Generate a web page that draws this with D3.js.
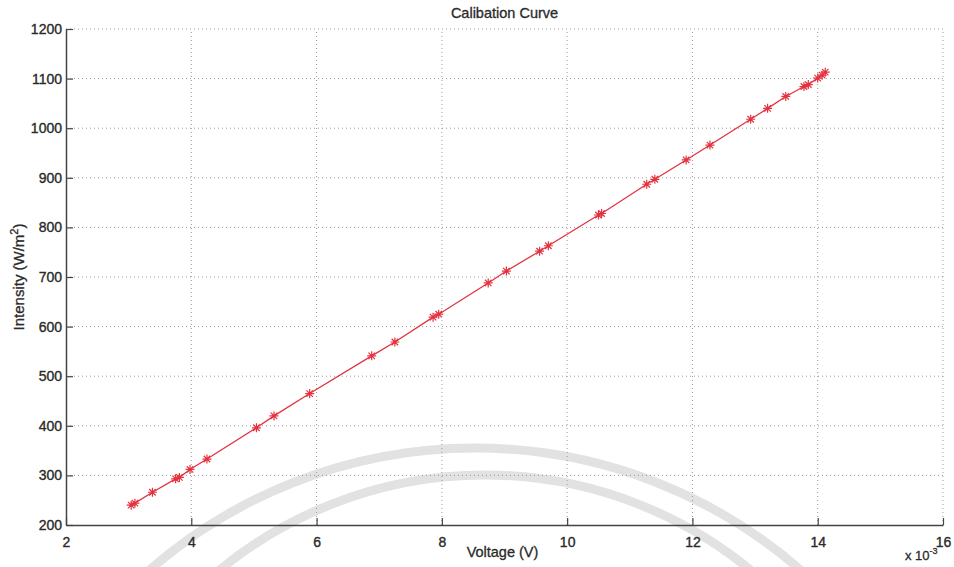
<!DOCTYPE html>
<html>
<head>
<meta charset="utf-8">
<script src="https://cdn.jsdelivr.net/npm/d3@7"></script>
<style>
  html, body { margin: 0; padding: 0; background: #fff; }
  svg { display: block; font-family: "Liberation Sans", Arial, sans-serif; }
</style>
</head>
<body>
<div id="chart"></div>
<script>
// voltage in units of 1e-3 V
const voltage = [3.04, 3.10, 3.38, 3.75, 3.81, 3.98, 4.25, 5.04, 5.32, 5.89, 6.88, 7.25,
  7.86, 7.95, 8.74, 9.03, 9.56, 9.70, 10.50, 10.55, 11.27, 11.40, 11.90, 12.28,
  12.93, 13.20, 13.49, 13.78, 13.85, 14.00, 14.07, 14.12];
const intensity = [240, 244, 266, 293, 296, 312, 333, 396, 420, 465, 541, 569,
  619, 625, 688, 712, 752, 763, 825, 828, 887, 897, 936, 966,
  1018, 1040, 1064, 1084, 1088, 1101, 1107, 1113];
const xTicks = [2, 4, 6, 8, 10, 12, 14, 16];
const yTicks = [200, 300, 400, 500, 600, 700, 800, 900, 1000, 1100, 1200];

const width = 954, height = 567;
const margin = { top: 29, right: 11, bottom: 42, left: 66 };
const red = '#e3323f';
const ink = '#2a2a2a';

const svg = d3.select('#chart').append('svg')
  .attr('width', width)
  .attr('height', height);

const x = d3.scaleLinear().domain([2, 16]).range([margin.left, width - margin.right]);
const y = d3.scaleLinear().domain([200, 1200]).range([height - margin.bottom, margin.top]);

// faint watermark arcs from the scanned page
const wm = svg.append('g').attr('fill', 'none').attr('stroke', '#e2e2e2').attr('stroke-width', 9);
wm.append('circle').attr('cx', 475).attr('cy', 943).attr('r', 495);
wm.append('circle').attr('cx', 485).attr('cy', 893).attr('r', 418);

// grid
const grid = svg.append('g')
  .attr('stroke', '#9a9a9a')
  .attr('stroke-width', 1)
  .attr('stroke-dasharray', '1,3');
grid.selectAll('.gx').data(xTicks.slice(1)).join('line')
  .attr('x1', d => x(d)).attr('x2', d => x(d))
  .attr('y1', y(200)).attr('y2', y(1200));
grid.selectAll('.gy').data(yTicks.slice(1)).join('line')
  .attr('y1', d => y(d)).attr('y2', d => y(d))
  .attr('x1', x(2)).attr('x2', x(16));

// axes (ticks point inward)
const fmt = d3.format('d');
const xAxis = svg.append('g')
  .attr('transform', `translate(0,${y(200)})`)
  .call(d3.axisBottom(x).tickValues(xTicks).tickFormat(fmt).tickSizeInner(-7).tickSizeOuter(0).tickPadding(12));
const yAxis = svg.append('g')
  .attr('transform', `translate(${x(2)},0)`)
  .call(d3.axisLeft(y).tickValues(yTicks).tickFormat(fmt).tickSizeInner(-7).tickSizeOuter(0).tickPadding(4));
[xAxis, yAxis].forEach(a => {
  a.select('.domain').attr('stroke', '#444').attr('stroke-width', 1.5);
  a.selectAll('.tick line').attr('stroke', '#444').attr('stroke-width', 1.2);
  a.selectAll('.tick text')
    .attr('fill', ink).attr('stroke', ink).attr('stroke-width', 0.35)
    .style('font-size', '14px');
});

// data line
const pts = voltage.map((v, i) => [v, intensity[i]]);
svg.append('path')
  .datum(pts)
  .attr('fill', 'none')
  .attr('stroke', red)
  .attr('stroke-width', 1.3)
  .attr('d', d3.line().x(d => x(d[0])).y(d => y(d[1])));

// asterisk markers
const s = 4.5, t = s * 0.72;
const star = `M${-s},0L${s},0M0,${-s}L0,${s}M${-t},${-t}L${t},${t}M${-t},${t}L${t},${-t}`;
svg.append('g')
  .attr('stroke', red)
  .attr('stroke-width', 1.2)
  .attr('fill', 'none')
  .selectAll('path').data(pts).join('path')
  .attr('transform', d => `translate(${x(d[0])},${y(d[1])})`)
  .attr('d', star);

// texts
const midX = (x(2) + x(16)) / 2;
const label = (sel, size) => sel
  .style('font-size', size + 'px')
  .attr('fill', ink).attr('stroke', ink).attr('stroke-width', 0.3);

label(svg.append('text')
  .attr('x', midX).attr('y', 18)
  .attr('text-anchor', 'middle'), 14.5)
  .text('Calibation Curve');

label(svg.append('text')
  .attr('x', midX - 2).attr('y', 557)
  .attr('text-anchor', 'middle'), 14.5)
  .text('Voltage (V)');

const yl = label(svg.append('text')
  .attr('transform', `translate(24,${(y(200) + y(1200)) / 2}) rotate(-90)`)
  .attr('text-anchor', 'middle'), 15);
yl.append('tspan').text('Intensity (W/m');
yl.append('tspan').attr('dy', -6).style('font-size', '11px').text('2');
yl.append('tspan').attr('dy', 6).text(')');

const ex = label(svg.append('text')
  .attr('x', 905).attr('y', 560), 13);
ex.append('tspan').text('x 10');
ex.append('tspan').attr('dy', -6).style('font-size', '9px').text('-3');
</script>
</body>
</html>
